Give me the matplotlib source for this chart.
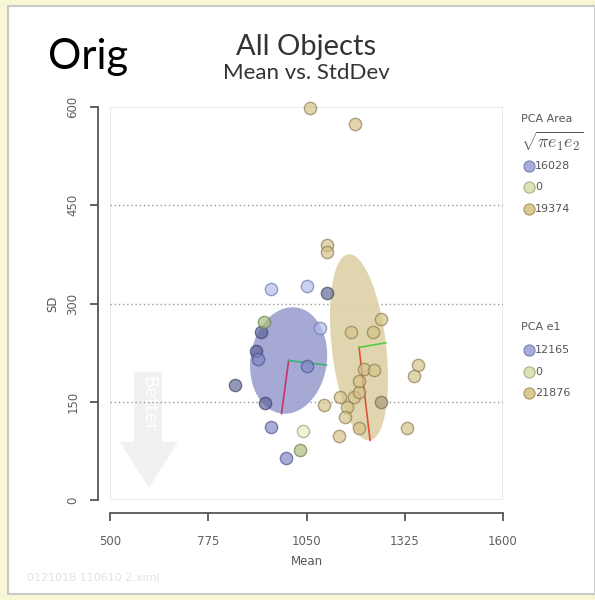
import numpy as np
import matplotlib
matplotlib.use("Agg")
import matplotlib.pyplot as plt
from matplotlib.patches import Rectangle, Polygon

# ---- data -------------------------------------------------------------
tan_mean = [1061, 1185, 1108, 1106, 1258, 1175, 1237, 1099, 1143, 1183, 1164,
            1157, 1141, 1197, 1197, 1197, 1211, 1239, 1363, 1351, 1332]
tan_sd = [599, 574, 390, 378, 276, 256, 256, 145, 158, 158, 142,
          126, 98, 110, 165, 181, 200, 199, 206, 189, 110]

olive_mean = [1258]
olive_sd = [149]

lightblue_mean = [950, 1050, 1089]
lightblue_sd = [322, 327, 262]

slate_mean = [1106, 849]
slate_sd = [316, 175]

darkblue_mean = [924, 910, 935]
darkblue_sd = [256, 228, 148]

blue_mean = [913, 1050, 952, 992]
blue_sd = [215, 205, 112, 64]

green_mean = [932, 1033]
green_sd = [271, 77]

pale_mean = [1041]
pale_sd = [106]

# PCA ellipses: centre, e1 semi-axis vector, e2 semi-axis vector (data units)
blue_center = (1000, 213)
blue_e1 = (-20, -81)
blue_e2 = (106, -7)
tan_center = (1197, 233)
tan_e1 = (31, -142)
tan_e2 = (75, 7)

x_ticks = [500, 775, 1050, 1325, 1600]
y_ticks = [0, 150, 300, 450, 600]

area_labels = ["16028", "0", "19374"]
e1_labels = ["12165", "0", "21876"]

# ---- figure -----------------------------------------------------------
W, H = 595, 600
fig = plt.figure(figsize=(W / 100, H / 100), dpi=100, facecolor="#F9F6D3")


def fx(px):
    return px / W


def fy(py):
    return 1 - py / H


# white card behind everything
fig.patches.append(Rectangle((fx(8), fy(594)), fx(595) - fx(8), fy(6) - fy(594),
                             transform=fig.transFigure, facecolor="white",
                             edgecolor="#C9C9C9", linewidth=1.5, zorder=-10))

ax = fig.add_axes([fx(110), fy(500), (503 - 110) / W, (500 - 107) / H])
ax.set_zorder(1)
ax.set_facecolor("none")
ax.set_xlim(500, 1600)
ax.set_ylim(0, 600)

# panel border
ax.add_patch(Rectangle((0, 0), 1, 1, transform=ax.transAxes, fill=False,
                       edgecolor="#E6E6E6", linewidth=1.2, zorder=0.5))

for s in ("top", "right"):
    ax.spines[s].set_visible(False)
for s in ("left", "bottom"):
    ax.spines[s].set_position(("outward", 9))
    ax.spines[s].set_color("#555555")
    ax.spines[s].set_linewidth(1.3)
ax.spines["left"].set_bounds(0, 600)
ax.spines["bottom"].set_bounds(500, 1600)

ax.set_xticks(x_ticks)
ax.set_yticks(y_ticks)
ax.set_xticklabels([str(v) for v in x_ticks])
ax.set_yticklabels([str(v) for v in y_ticks], rotation=90, va="center")
ax.tick_params(axis="both", length=6, width=1.3, color="#555555",
               labelcolor="#606060", labelsize=8.5)
ax.tick_params(axis="x", pad=10)
ax.tick_params(axis="y", pad=7)

ax.set_xlabel("Mean", color="#555555", fontsize=8.5, labelpad=5)
ax.set_ylabel("SD", color="#555555", fontsize=8.5, labelpad=5)

# dotted reference lines
for yv in (150, 300, 450):
    ax.axhline(yv, color="#9A9A9A", linestyle=(0, (1, 2)), linewidth=1.0, zorder=1)

# "Better" arrow watermark
shaft = [(0.061, 0.326), (0.132, 0.326), (0.132, 0.148), (0.173, 0.148),
         (0.099, 0.031), (0.025, 0.148), (0.061, 0.148)]
ax.add_patch(Polygon(shaft, closed=True, transform=ax.transAxes,
                     facecolor="#F1F1F1", edgecolor="none", zorder=0.8))
ax.text(0.097, 0.245, "Better", transform=ax.transAxes, rotation=270,
        ha="center", va="center", fontsize=13, color="white", zorder=0.9)


def ellipse_pts(c, v1, v2, n=200):
    t = np.linspace(0, 2 * np.pi, n)
    x = c[0] + np.cos(t) * v1[0] + np.sin(t) * v2[0]
    y = c[1] + np.cos(t) * v1[1] + np.sin(t) * v2[1]
    return np.column_stack([x, y])


ax.add_patch(Polygon(ellipse_pts(blue_center, blue_e1, blue_e2), closed=True,
                     facecolor="#A0A5D2", edgecolor="none", alpha=0.95, zorder=2))
ax.add_patch(Polygon(ellipse_pts(tan_center, tan_e1, tan_e2), closed=True,
                     facecolor="#DFD3AB", edgecolor="none", alpha=0.95, zorder=2))

for c, e1, e2, rc, gc in ((blue_center, blue_e1, blue_e2, "#C8336A", "#3DB07E"),
                          (tan_center, tan_e1, tan_e2, "#E0503A", "#55CC44")):
    ax.plot([c[0], c[0] + e1[0]], [c[1], c[1] + e1[1]], color=rc, lw=1.2, zorder=3)
    ax.plot([c[0], c[0] + e2[0]], [c[1], c[1] + e2[1]], color=gc, lw=1.2, zorder=3)

groups = [
    (tan_mean, tan_sd, "#D4C288", "#8C7C50"),
    (olive_mean, olive_sd, "#A79E7C", "#6E6650"),
    (lightblue_mean, lightblue_sd, "#B2BDEA", "#6E78A8"),
    (slate_mean, slate_sd, "#5E6690", "#3C4262"),
    (darkblue_mean, darkblue_sd, "#5D6398", "#3A3F6C"),
    (blue_mean, blue_sd, "#8086C4", "#4C5290"),
    (green_mean, green_sd, "#A8BF78", "#6A7C48"),
    (pale_mean, pale_sd, "#E8ECC6", "#9AA07A"),
]
for xs, ys, fc, ec in groups:
    ax.scatter(xs, ys, s=78, facecolor=fc, edgecolor=ec, linewidth=1.0,
               alpha=0.68, zorder=4, clip_on=False)

# ---- titles -----------------------------------------------------------
fig.text(fx(48), fy(57), "Orig", fontsize=30, family="Lato", color="black",
         ha="left", va="center")
fig.text(fx(306), fy(47), "All Objects", fontsize=21, family="Lato",
         color="#333333", ha="center", va="center")
fig.text(fx(306), fy(73), "Mean vs. StdDev", fontsize=16, family="Lato",
         color="#333333", ha="center", va="center")

# ---- colour keys ------------------------------------------------------
key_colors = [("#A7ACDC", "#7A80B0"), ("#DCE2B4", "#A8AE88"), ("#DCC894", "#A8965E")]
fig.text(fx(521), fy(119), "PCA Area", fontsize=8, color="#555555",
         ha="left", va="center")
fig.text(fx(521), fy(141), r"$\sqrt{\pi e_1 e_2}$", fontsize=13,
         color="#555555", ha="left", va="center", math_fontfamily="cm")
fig.text(fx(521), fy(327), "PCA e1", fontsize=8, color="#555555",
         ha="left", va="center")

for labels, ys in ((area_labels, (166, 187, 209)), (e1_labels, (350, 372, 393))):
    for lab, yy, (fc, ec) in zip(labels, ys, key_colors):
        fig.add_artist(plt.Line2D([fx(529)], [fy(yy)], marker="o", markersize=8,
                                  markerfacecolor=fc, markeredgecolor=ec,
                                  markeredgewidth=0.8, transform=fig.transFigure))
        fig.text(fx(535), fy(yy), lab, fontsize=8, color="#555555",
                 ha="left", va="center")

fig.text(fx(27), fy(578), "0121018 110610 2.ximl", fontsize=8,
         color="#E2E2E2", ha="left", va="center")

fig.savefig("out.png", dpi=100, facecolor=fig.get_facecolor())
